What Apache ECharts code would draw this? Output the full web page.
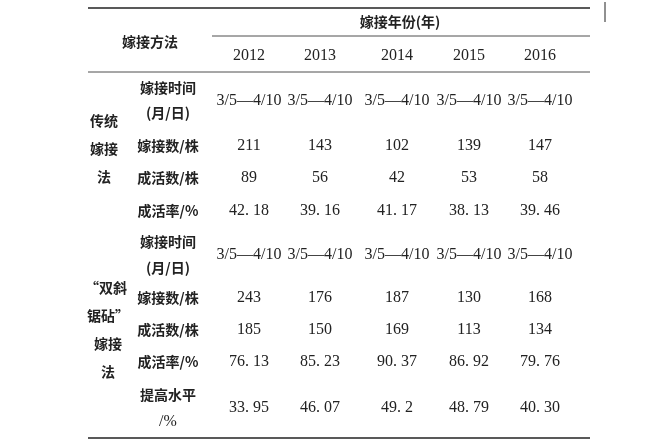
<!DOCTYPE html>
<html><head><meta charset="utf-8">
<script src="https://cdn.jsdelivr.net/npm/echarts@6/dist/echarts.min.js"></script>
<style>html,body{margin:0;background:#fff}#c{width:649px;height:443px}</style>
</head><body><div id="c"></div>
<script>
const years = ["2012", "2013", "2014", "2015", "2016"];
const graftDate = "3/5—4/10";
const tradCount = ["211", "143", "102", "139", "147"];
const tradAlive = ["89", "56", "42", "53", "58"];
const tradRate = ["42. 18", "39. 16", "41. 17", "38. 13", "39. 46"];
const newCount = ["243", "176", "187", "130", "168"];
const newAlive = ["185", "150", "169", "113", "134"];
const newRate = ["76. 13", "85. 23", "90. 37", "86. 92", "79. 76"];
const improve = ["33. 95", "46. 07", "49. 2", "48. 79", "40. 30"];

const colX = [249, 320, 397, 469, 540];
const cjk = '"Noto Sans CJK SC"';
const num = '"Liberation Serif", serif';
const els = [];
const txt = (x, y, s, bold, font, size) => els.push({
  type: "text", x, y,
  style: { text: s, x: 0, y: 0, align: "center", verticalAlign: "middle",
    font: (bold ? "bold " : "") + (size || 14) + "px " + (font || cjk), fill: "#222" }
});
const line = (x1, y1, x2, y2, w) => els.push({
  type: "line", shape: { x1, y1, x2, y2 }, style: { stroke: "#222", lineWidth: w || 1 }
});
const row = (vals, y) => vals.forEach((v, i) => txt(colX[i], y, v, false, num, 16));

line(88, 8, 590, 8, 1.5);
line(605, 2, 605, 22, 1);
txt(400, 22, "嫁接年份(年)", true);
line(212, 36, 590, 36, 0.8);
txt(150, 42, "嫁接方法", true);
row(years, 56);
line(88, 72, 590, 72, 0.8);

txt(168, 88, "嫁接时间", true);
txt(168, 113, "(月/日)", true);
row(Array(5).fill(graftDate), 101);
txt(168, 146, "嫁接数/株", true); row(tradCount, 146);
txt(168, 178, "成活数/株", true); row(tradAlive, 178);
txt(168, 211, "成活率/%", true); row(tradRate, 211);
txt(104, 121, "传统", true);
txt(104, 149, "嫁接", true);
txt(104, 177, "法", true);

txt(168, 242, "嫁接时间", true);
txt(168, 268, "(月/日)", true);
row(Array(5).fill(graftDate), 255);
txt(168, 298, "嫁接数/株", true); row(newCount, 298);
txt(168, 330, "成活数/株", true); row(newAlive, 330);
txt(168, 362, "成活率/%", true); row(newRate, 362);
txt(168, 395, "提高水平", true);
txt(168, 422, "/%", false, num, 16);
row(improve, 408);
txt(106, 288, "“双斜", true);
txt(108, 316, "锯砧”", true);
txt(108, 344, "嫁接", true);
txt(108, 372, "法", true);
line(88, 438, 590, 438, 1.5);

const chart = echarts.init(document.getElementById("c"));
chart.setOption({ animation: false, graphic: { elements: els } });
</script></body></html>
